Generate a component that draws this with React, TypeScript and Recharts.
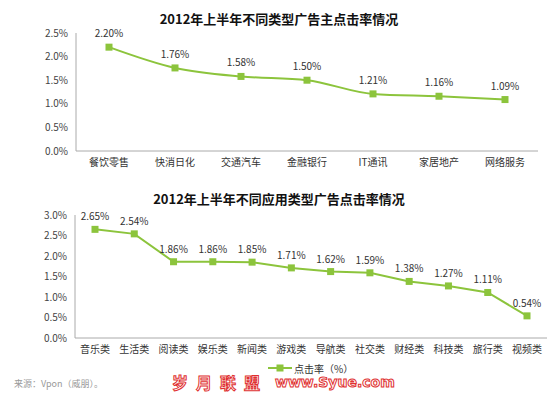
import React from 'react';
import { LineChart, Line, XAxis, YAxis, LabelList, Legend } from 'recharts';

const advertiserCats = ['餐饮零售', '快消日化', '交通汽车', '金融银行', 'IT通讯', '家居地产', '网络服务'];
const advertiserCtr = [2.2, 1.76, 1.58, 1.5, 1.21, 1.16, 1.09];
const advertiserTicks = [0, 0.5, 1, 1.5, 2, 2.5];

const appCats = ['音乐类', '生活类', '阅读类', '娱乐类', '新闻类', '游戏类', '导航类', '社交类', '财经类', '科技类', '旅行类', '视频类'];
const appCtr = [2.65, 2.54, 1.86, 1.86, 1.85, 1.71, 1.62, 1.59, 1.38, 1.27, 1.11, 0.54];
const appTicks = [0, 0.5, 1, 1.5, 2, 2.5, 3];

const GREEN = '#8cc43c';
const FONT = '"Noto Sans CJK SC", "Noto Sans", sans-serif';

const topData = advertiserCats.map((name, i) => ({ name, ctr: advertiserCtr[i] }));
const bottomData = appCats.map((name, i) => ({ name, ctr: appCtr[i] }));

const pct = (v: number) => `${v.toFixed(1)}%`;
const pct2 = (v: any) => `${Number(v).toFixed(2)}%`;

const SquareDot = (props: any) => {
  const { cx, cy } = props;
  if (cx == null || cy == null) return null;
  return <rect x={cx - 3.5} y={cy - 3.5} width={7} height={7} fill={GREEN} />;
};

const LegendContent = () => (
  <div style={{ display: 'flex', alignItems: 'center', paddingLeft: 268, fontFamily: FONT, fontSize: 10, color: '#333', height: 16 }}>
    <svg width={24} height={10}>
      <line x1={0} y1={5} x2={24} y2={5} stroke={GREEN} strokeWidth={2} />
      <rect x={8.5} y={1.5} width={7} height={7} fill={GREEN} />
    </svg>
    <span style={{ marginLeft: 2 }}>点击率（%）</span>
  </div>
);

const titleStyle: React.CSSProperties = {
  position: 'absolute',
  left: 0,
  width: 558,
  textAlign: 'center',
  fontFamily: FONT,
  fontWeight: 'bold',
  fontSize: 13,
  color: '#111',
};

const tickStyle = { fontSize: 10, fill: '#444', fontFamily: FONT };

export default function App() {
  return (
    <div style={{ position: 'absolute', left: 0, top: 0, width: 558, height: 393, background: '#fff', overflow: 'hidden' }}>
      <div style={{ ...titleStyle, top: 9 }}>2012年上半年不同类型广告主点击率情况</div>
      <div style={{ position: 'absolute', left: 0, top: 0 }}>
        <LineChart width={558} height={175} data={topData} margin={{ top: 33, right: 20, left: 0, bottom: 0 }}>
          <XAxis dataKey="name" height={24} padding={{ left: 33, right: 33 }} tickLine={false} tickSize={0} tickMargin={8} stroke="#aaa" tick={{ ...tickStyle, fill: '#333' }} interval={0} />
          <YAxis width={76} domain={[0, 2.5]} ticks={advertiserTicks} tickFormatter={pct} tickLine={false} tickSize={0} tickMargin={8} stroke="#aaa" tick={tickStyle} />
          <Line type="monotone" dataKey="ctr" stroke={GREEN} strokeWidth={2} dot={<SquareDot />} activeDot={false} isAnimationActive={false}>
            <LabelList dataKey="ctr" position="top" offset={10} formatter={pct2} style={{ fontSize: 10, fill: '#333', fontFamily: FONT }} />
          </Line>
        </LineChart>
      </div>

      <div style={{ ...titleStyle, top: 189 }}>2012年上半年不同应用类型广告点击率情况</div>
      <div style={{ position: 'absolute', left: 0, top: 180 }}>
        <LineChart width={558} height={200} data={bottomData} margin={{ top: 35, right: 11, left: 0, bottom: 4 }}>
          <XAxis dataKey="name" height={22} padding={{ left: 20, right: 20 }} tickLine={false} tickSize={0} tickMargin={8} stroke="#aaa" tick={{ ...tickStyle, fill: '#333' }} interval={0} />
          <YAxis width={75} domain={[0, 3]} ticks={appTicks} tickFormatter={pct} tickLine={false} tickSize={0} tickMargin={8} stroke="#aaa" tick={tickStyle} />
          <Legend verticalAlign="bottom" height={16} content={<LegendContent />} />
          <Line type="linear" dataKey="ctr" name="点击率（%）" stroke={GREEN} strokeWidth={2} dot={<SquareDot />} activeDot={false} isAnimationActive={false}>
            <LabelList dataKey="ctr" position="top" offset={9} formatter={pct2} style={{ fontSize: 10, fill: '#333', fontFamily: FONT }} />
          </Line>
        </LineChart>
      </div>

      <div style={{ position: 'absolute', left: 14, top: 377, fontFamily: FONT, fontSize: 9, color: '#999' }}>来源：Vpon（威朋）。</div>
      <div style={{ position: 'absolute', left: 172, top: 373, fontFamily: FONT, fontSize: 16, fontWeight: 'bold', color: '#fff', WebkitTextStroke: '1px #e03030', letterSpacing: 8, lineHeight: '18px', whiteSpace: 'nowrap' }}>岁月联盟</div>
      <div style={{ position: 'absolute', left: 275, top: 374, fontFamily: '"DejaVu Sans", sans-serif', fontSize: 14, fontWeight: 'bold', color: '#fff', WebkitTextStroke: '1px #e03030', lineHeight: '17px', whiteSpace: 'nowrap' }}>www.Syue.com</div>
    </div>
  );
}
